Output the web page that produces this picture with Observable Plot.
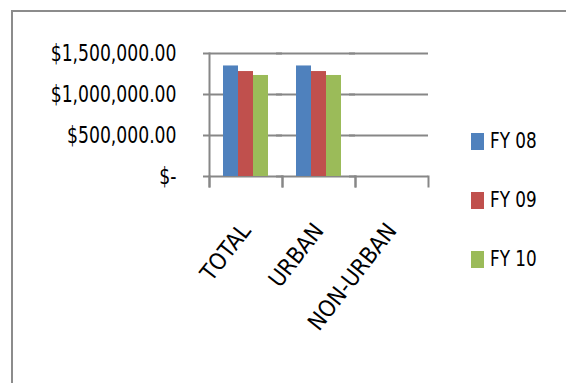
<!DOCTYPE html>
<html><head><meta charset="utf-8">
<script src="https://cdn.jsdelivr.net/npm/d3@7"></script>
<script src="https://cdn.jsdelivr.net/npm/@observablehq/plot@0.6"></script>
<style>
body{margin:0;width:566px;height:383px;overflow:hidden;background:#fff;position:relative;font-family:"Liberation Sans Narrow","DejaVu Sans Condensed",Roboto,sans-serif;}
#border{position:absolute;left:11px;top:10px;width:700px;height:500px;border:2px solid #8c8c8c;pointer-events:none;z-index:2}
#chart{position:absolute;left:0;top:0}
.legend-item{position:absolute;left:471px;display:flex;align-items:center;font-size:22px;line-height:22px;color:#000;white-space:nowrap}
.sw{width:13px;height:17px;margin-right:6px;flex:none}
.lt{display:inline-block;transform:scaleX(0.85);transform-origin:left center}
</style></head><body>
<div id="chart"></div><div id="border"></div><div id="legend"></div>
<script>
const categories = ["TOTAL", "URBAN", "NON-URBAN"];
const seriesNames = ["FY 08", "FY 09", "FY 10"];
const fy08 = [1348000, 1348000, 0];
const fy09 = [1280000, 1280000, 0];
const fy10 = [1232000, 1232000, 0];
const yTicks = [0, 500000, 1000000, 1500000];
const colors = ["#4f81bd", "#c0504d", "#9bbb59"];

const seriesValues = [fy08, fy09, fy10];
const data = [];
categories.forEach((c, i) => seriesNames.forEach((s, j) => data.push({category: c, series: s, value: seriesValues[j][i]})));
const fmt = d => d === 0 ? "$-" : "$" + d3.format(",.2f")(d);
const gray = "#878787";
const font = '"Liberation Sans Narrow","DejaVu Sans Condensed",Roboto,sans-serif';

const plot = Plot.plot({
  width: 566, height: 383,
  marginLeft: 208, marginRight: 138, marginTop: 53, marginBottom: 207,
  style: {fontFamily: font, fontSize: "22px", color: "#000", background: "transparent", overflow: "visible"},
  fx: {domain: categories, padding: 0, axis: null, label: null},
  x: {domain: seriesNames, paddingInner: 0, paddingOuter: 0.79, axis: null},
  y: {domain: [0, 1500000], axis: null},
  color: {domain: seriesNames, range: colors},
  marks: [
    Plot.ruleY(yTicks, {stroke: gray, strokeWidth: 2, insetLeft: -6}),
    Plot.barY(data, {fx: "category", x: "series", y: "value", fill: "series"}),
    Plot.frame({anchor: "left", facet: "super", stroke: gray, strokeWidth: 2, insetBottom: -10}),
    Plot.frame({anchor: "left", stroke: gray, strokeWidth: 2, insetTop: 123, insetBottom: -10}),
    Plot.frame({anchor: "right", stroke: gray, strokeWidth: 2, insetTop: 123, insetBottom: -10}),
    Plot.axisY({ticks: yTicks, tickFormat: fmt, tickSize: 0, tickPadding: 33, label: null, fill: "#000", fontSize: 22.5}),
    Plot.axisFx({anchor: "bottom", tickRotate: -52, tickSize: 0, tickPadding: 50, label: null, fill: "#000", fontSize: 23})
  ]
});
// condense the y-axis text horizontally (narrow face like the original)
plot.querySelectorAll('g[aria-label="y-axis tick label"] text').forEach(t => {
  const tr = t.getAttribute("transform") || "";
  t.setAttribute("transform", (tr + " scale(0.85,1)").trim());
});
document.getElementById("chart").appendChild(plot);

const color = plot.scale("color");
const legendTops = [130, 189, 248];
const legend = document.getElementById("legend");
seriesNames.forEach((s, i) => {
  const item = document.createElement("div");
  item.className = "legend-item";
  item.style.top = legendTops[i] + "px";
  const sw = document.createElement("span");
  sw.className = "sw";
  sw.style.background = color.apply(s);
  const t = document.createElement("span");
  t.className = "lt";
  t.textContent = s;
  item.appendChild(sw); item.appendChild(t);
  legend.appendChild(item);
});
</script>
</body></html>
